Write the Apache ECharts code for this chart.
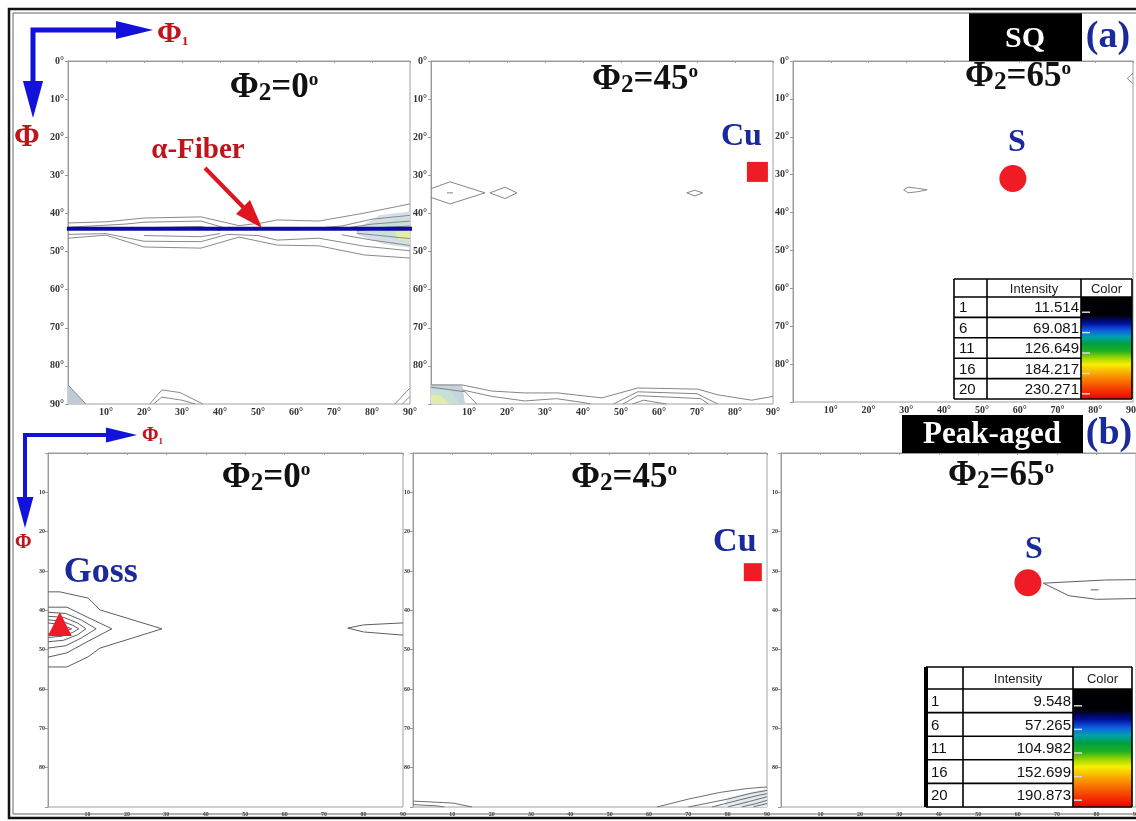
<!DOCTYPE html>
<html>
<head>
<meta charset="utf-8">
<script src="https://cdn.jsdelivr.net/npm/echarts@6/dist/echarts.min.js"></script>
<style>
  html, body { margin: 0; padding: 0; background: #fff; }
  #chart { width: 1136px; height: 821px; }
</style>
</head>
<body>
<div id="chart"></div>
<script>
// ---- ODF section data (Euler angles in degrees: [phi1, Phi]) ----
const ANGLE_TICKS = [0, 10, 20, 30, 40, 50, 60, 70, 80, 90];
const PHI2_SECTIONS = ['0', '45', '65'];
const STATE_NAMES = ['SQ', 'Peak-aged'];
const PANEL_TAGS = ['(a)', '(b)'];

// contour level table
const LEVELS = [1, 6, 11, 16, 20];
const INTENSITY_SQ = ['11.514', '69.081', '126.649', '184.217', '230.271'];
const INTENSITY_PA = ['9.548', '57.265', '104.982', '152.699', '190.873'];

// alpha fibre position (Phi)
const ALPHA_FIBER_PHI = 44;

// ideal texture components
const CU_SQ = [85.9, 29.1];
const S_SQ = [58.2, 31];
const CU_PA = [86.4, 30.3];
const S_PA = [62.6, 33];
const GOSS_PA = [3, 43.5];

// SQ, phi2 = 0
const SQ0_LINES = [
  [[0,42.5],[10,42.2],[20,41.2],[35,40.9],[45,43.2],[51,42.5],[55,41.7],[66,42],[78,39.9],[90,37.5]],
  [[0,43.6],[8,43.2],[15,42.8],[20,42.3],[35,42],[42,44],[50,44.2],[60,44.3],[72,43.3],[80,41.5],[90,40.5]],
  [[18,43.8],[35,43.4],[40,44.5]],
  [[70,44.3],[80,42.8],[90,42]],
  [[0,46.5],[10,45.7],[20,48.8],[35,49.1],[45,46.2],[55,48.3],[66,48.5],[78,50.9],[90,51.7]],
  [[0,45.5],[10,45.3],[20,47.3],[35,47.4],[42,45.5],[50,45.8],[55,47],[66,46.5],[78,48.6],[90,49.8]],
  [[20,45.8],[35,46.1],[40,45.3]],
  [[72,45.6],[80,47],[90,48.4]],
  [[76,44.6],[84,43.6],[90,43.3]],
  [[76,45.2],[84,46],[90,46.6]],
  [[21.5,90],[24.7,86.3],[29.5,87],[35.5,90]],
  [[22.5,90],[24.7,88.2],[30,89],[33.5,90]],
  [[86,90],[90,85.8]],
  [[88,90],[90,88]],
  [[0,85],[4.7,90]]
];
const SQ0_FILLS = [
  [[76,44],[82,40.5],[90,39.5],[90,49],[83,48],[76,45.5]],
  [[82,43.2],[86,41.5],[90,41],[90,47.8],[86,46.8],[82,45.6]],
  [[86,45],[90,43.6],[90,47.2],[87,46.8]],
  [[0,85],[4.7,90],[0,90]]
];

// SQ, phi2 = 45
const SQ45_LINES = [
  [[0,33.5],[5,31.7],[14.2,34.6],[5,37.5],[0,35.8]],
  [[4.2,34.6],[5.8,34.6]],
  [[15.5,34.6],[19.5,33.1],[22.6,34.6],[19.5,36.1],[15.5,34.6]],
  [[67.3,34.6],[69.4,33.9],[71.5,34.6],[69.4,35.4],[67.3,34.6]],
  [[0,85],[8.2,85],[16,86.6],[24.7,87.1],[33.4,87.1],[45,88.4],[54.4,85.8],[70.2,86.1],[75.5,87.6],[84.4,89],[90,88]],
  [[8.2,86.3],[16,88],[24.7,89.2],[33,88.6],[40,89.6],[42,90]],
  [[48,90],[54.4,86.8],[70,87.3],[75.5,90]],
  [[50.5,90],[54.4,87.8],[71,88.6],[73,90]],
  [[53,90],[56,89],[60,89.7],[62,90]],
  [[0,85.6],[9,86.8],[12,90]]
];
const SQ45_FILLS = [
  [[0,84.8],[8.2,85],[9,90],[0,90]],
  [[0,86],[5,86.4],[7.5,90],[0,90]],
  [[0,87.5],[2.5,87.8],[5,90],[0,90]]
];

// SQ, phi2 = 65
const SQ65_LINES = [
  [[29.3,34],[30.5,33.3],[33,33.6],[35.5,34],[33,34.5],[30.5,34.8],[29.3,34]],
  [[90,3.2],[88.5,4.6],[90,6]]
];

// Peak-aged, phi2 = 0
const PA0_LINES = [
  [[0,35.3],[3,35.3],[10.2,36.9],[13.2,39.9],[28.9,44.7],[13.2,49.6],[10.2,51.8],[4.8,54.4],[0,54.4]],
  [[0,39.2],[4.8,39.2],[9.9,41.7],[16.2,44.7],[9.9,48],[4.8,50.8],[0,51.9]],
  [[0,40.5],[4.5,40.8],[8.5,42.5],[12.2,44.7],[8.5,47],[4.5,49],[0,49.6]],
  [[0,41.5],[4,41.8],[7.5,43.2],[9.6,44.7],[7.5,46.2],[4,47.6],[0,48]],
  [[0,42.4],[3.5,42.8],[6.3,43.8],[7.8,44.7],[6.3,45.6],[3.5,46.6],[0,46.9]],
  [[0,43.2],[3,43.6],[6,44.7],[3,45.7],[0,46]],
  [[90,43.2],[80,43.7],[76,44.5],[80,45.5],[90,46.3]]
];

// Peak-aged, phi2 = 45
const PA45_LINES = [
  [[0,88.5],[10.2,89],[15,90]],
  [[0,89.4],[6,89.7],[8,90]],
  [[62,90],[70,88],[78,86.3],[85,85.3],[90,84.9]],
  [[70,90],[80,88],[86,86.5],[90,85.8]],
  [[76,90],[83,88.2],[88,87],[90,86.6]],
  [[80,90],[85.5,88.6],[90,87.4]],
  [[83.5,90],[87,89.2],[90,88.3]],
  [[86.5,90],[90,89.1]]
];
const PA45_FILLS = [
  [[80,87.6],[90,85.3],[90,90],[79,90]]
];

// Peak-aged, phi2 = 65
const PA65_LINES = [
  [[90,32.2],[82,32.3],[66.5,33.1],[73,36.3],[80,37.2],[90,37]],
  [[78.5,34.8],[80.5,34.8]]
];

// ---- layout & styling ----
const SERIF = '"Liberation Serif", "DejaVu Serif", serif';
const SANS = '"Liberation Sans", Arial, sans-serif';
const BLUE_ARROW = '#1212d8';
const RED_TXT = '#c0141c';
const NAVY = '#1b2a9a';
const MARK_RED = '#ef1c26';

const GRIDS = [
  { left: 68, top: 61, width: 342, height: 343 },
  { left: 431, top: 61, width: 342, height: 343 },
  { left: 793, top: 61, width: 340, height: 341 },
  { left: 48, top: 453, width: 355, height: 354 },
  { left: 413, top: 453, width: 354, height: 354 },
  { left: 781, top: 453, width: 355, height: 354 }
];

const FILL_STYLE = {
  sq0: ['#d3e0e8', '#c8e2d8', '#e3eea6', '#bfccd6'],
  sq45: ['#c6d4de', '#c6e0d8', '#e0eca8'],
  pa45: ['#e3e9ef']
};

function xAxisFor(i) {
  const top = i < 3;
  return {
    type: 'value', gridIndex: i, min: 0, max: 90, interval: 10, position: 'bottom',
    axisLine: { show: true, lineStyle: { color: '#9a9a9a', width: 1 } },
    axisTick: { show: true, length: 2, lineStyle: { color: '#9a9a9a' } },
    splitLine: { show: false },
    axisLabel: {
      show: true, margin: top ? 3 : 4,
      fontFamily: SERIF, fontWeight: 'bold', fontSize: top ? 10 : 6, color: '#333',
      formatter: v => (v === 0 ? '' : (top ? v + '°' : String(v)))
    }
  };
}
function yAxisFor(i) {
  const top = i < 3;
  return {
    type: 'value', gridIndex: i, min: 0, max: 90, interval: 10, inverse: true,
    axisLine: { show: true, lineStyle: { color: '#9a9a9a', width: 1 } },
    axisTick: { show: true, length: 3, lineStyle: { color: '#9a9a9a' } },
    splitLine: { show: false },
    axisLabel: {
      show: true, margin: top ? 4 : 3,
      fontFamily: SERIF, fontWeight: 'bold', fontSize: top ? 10 : 6, color: '#333',
      formatter: v => {
        if (i !== 0 && v === 90) return '';
        if (!top && v === 0) return '';
        return top ? v + '°' : String(v);
      }
    }
  };
}

function lineSeries(gi, arr, color, width) {
  return arr.map(pts => ({
    type: 'line', xAxisIndex: gi, yAxisIndex: gi, data: pts,
    symbol: 'none', showSymbol: false, silent: true, animation: false, z: 4,
    lineStyle: { color: color || '#7f7f7f', width: width || 1 }
  }));
}
function fillSeries(gi, polys, colors) {
  return {
    type: 'custom', xAxisIndex: gi, yAxisIndex: gi, silent: true, animation: false, z: 2,
    data: polys.map(p => p[0]),
    renderItem: (params, api) => ({
      type: 'polygon',
      shape: { points: polys[params.dataIndex].map(q => api.coord(q)) },
      style: { fill: colors[params.dataIndex] }
    })
  };
}
function markerSeries(gi, point, symbol, size, text, offset, fontSize) {
  return {
    type: 'scatter', xAxisIndex: gi, yAxisIndex: gi, data: [point], z: 10,
    symbol: symbol, symbolSize: size, silent: true, animation: false,
    itemStyle: { color: MARK_RED, opacity: 1 },
    label: {
      show: true, position: 'inside', offset: offset, formatter: text,
      fontFamily: SERIF, fontWeight: 'bold', fontSize: fontSize, color: NAVY
    }
  };
}

// section title "Φ2=xx°"
function sectionTitle(cx, cy, angle, size) {
  return {
    type: 'text', z: 20,
    style: {
      x: cx, y: cy, align: 'center', verticalAlign: 'middle',
      textAlign: 'center', textVerticalAlign: 'middle',
      text: '{a|Φ}{b|2}{a|=' + angle + '}{c|o}',
      rich: {
        a: { fontFamily: SERIF, fontWeight: 'bold', fontSize: size, fill: '#111', lineHeight: size },
        b: { fontFamily: SERIF, fontWeight: 'bold', fontSize: size * 0.72, fill: '#111', lineHeight: size * 0.55, verticalAlign: 'bottom' },
        c: { fontFamily: SERIF, fontWeight: 'bold', fontSize: size * 0.55, fill: '#111', lineHeight: size * 0.55, verticalAlign: 'top' }
      }
    }
  };
}

function phiLabel(x, y, size, sub) {
  return {
    type: 'text', z: 20,
    style: {
      x: x, y: y, align: 'left', verticalAlign: 'middle', textAlign: 'left', textVerticalAlign: 'middle',
      text: sub ? '{a|Φ}{b|' + sub + '}' : '{a|Φ}',
      rich: {
        a: { fontFamily: SERIF, fontWeight: 'bold', fontSize: size, fill: RED_TXT, lineHeight: size },
        b: { fontFamily: SERIF, fontWeight: 'bold', fontSize: size * 0.45, fill: RED_TXT, lineHeight: size * 0.5, verticalAlign: 'bottom' }
      }
    }
  };
}

// axis-direction arrows (phi1 to the right, Phi downwards)
function axisArrows(ox, oy, hx, vy, w, head) {
  return [
    { type: 'polyline', z: 20, shape: { points: [[ox, vy - head], [ox, oy], [hx - head, oy]] },
      style: { stroke: BLUE_ARROW, lineWidth: w, fill: null, lineJoin: 'miter' } },
    { type: 'polygon', z: 20, shape: { points: [[hx - head - 1, oy - head * 0.25], [hx, oy], [hx - head - 1, oy + head * 0.25]] },
      style: { fill: BLUE_ARROW } },
    { type: 'polygon', z: 20, shape: { points: [[ox - head * 0.28, vy - head - 1], [ox, vy], [ox + head * 0.28, vy - head - 1]] },
      style: { fill: BLUE_ARROW } }
  ];
}

function levelTable(x, y, colW, rowH, headH, values, thickLeft) {
  const els = [];
  const w = colW[0] + colW[1] + colW[2];
  const h = headH + rowH * values.length;
  const x1 = x + colW[0], x2 = x1 + colW[1], x3 = x2 + colW[2];
  els.push({ type: 'rect', z: 30, shape: { x: x, y: y, width: w, height: h }, style: { fill: '#fff', stroke: null } });
  els.push({
    type: 'rect', z: 31, shape: { x: x2, y: y + headH, width: colW[2], height: rowH * values.length },
    style: {
      fill: new echarts.graphic.LinearGradient(0, 0, 0, 1, [
        { offset: 0, color: '#000000' }, { offset: 0.18, color: '#000008' },
        { offset: 0.26, color: '#0010a0' }, { offset: 0.33, color: '#1060e0' },
        { offset: 0.39, color: '#00a0b0' }, { offset: 0.46, color: '#00a040' },
        { offset: 0.53, color: '#20b020' }, { offset: 0.6, color: '#a0d800' },
        { offset: 0.66, color: '#f8f000' }, { offset: 0.75, color: '#f8a800' },
        { offset: 0.86, color: '#f85800' }, { offset: 1, color: '#f00000' }
      ])
    }
  });
  const stroke = { stroke: '#000', lineWidth: 1.6 };
  // horizontal rules
  for (let r = 0; r <= values.length + 1; r++) {
    const yy = r === 0 ? y : y + headH + rowH * (r - 1);
    els.push({ type: 'line', z: 32, shape: { x1: x, y1: yy, x2: r === 0 || r === values.length + 1 ? x3 : x2, y2: yy }, style: stroke });
  }
  els.push({ type: 'line', z: 32, shape: { x1: x2, y1: y + headH, x2: x3, y2: y + headH }, style: stroke });
  // vertical rules
  [x, x1, x2, x3].forEach((xx, k) => {
    els.push({ type: 'line', z: 32, shape: { x1: xx, y1: y, x2: xx, y2: y + h },
      style: { stroke: '#000', lineWidth: (k === 0 && thickLeft) ? 4 : 1.6 } });
  });
  els.push({ type: 'text', z: 33, style: { x: (x1 + x2) / 2, y: y + headH / 2 + 1, text: 'Intensity', align: 'center', verticalAlign: 'middle', textAlign: 'center', textVerticalAlign: 'middle', font: '13px ' + SANS, fill: '#222' } });
  els.push({ type: 'text', z: 33, style: { x: (x2 + x3) / 2, y: y + headH / 2 + 1, text: 'Color', align: 'center', verticalAlign: 'middle', textAlign: 'center', textVerticalAlign: 'middle', font: '13px ' + SANS, fill: '#222' } });
  values.forEach((v, r) => {
    const cy = y + headH + rowH * r + rowH / 2 + 1;
    els.push({ type: 'text', z: 33, style: { x: x + 5, y: cy, text: String(LEVELS[r]), align: 'left', verticalAlign: 'middle', textAlign: 'left', textVerticalAlign: 'middle', font: '15px ' + SANS, fill: '#111' } });
    els.push({ type: 'text', z: 33, style: { x: x2 - 2, y: cy, text: v, align: 'right', verticalAlign: 'middle', textAlign: 'right', textVerticalAlign: 'middle', font: '15px ' + SANS, fill: '#111' } });
    els.push({ type: 'line', z: 33, shape: { x1: x2 + 1, y1: cy + 4, x2: x2 + 9, y2: cy + 4 }, style: { stroke: '#d8d8d8', lineWidth: 1.5 } });
  });
  return els;
}

const series = [].concat(
  fillSeries(0, SQ0_FILLS, FILL_STYLE.sq0),
  lineSeries(0, SQ0_LINES, '#8a8a8a'),
  [{
    type: 'line', xAxisIndex: 0, yAxisIndex: 0, clip: false, silent: true, animation: false, z: 8,
    symbol: 'none', data: [[-0.3, ALPHA_FIBER_PHI], [90.8, ALPHA_FIBER_PHI]],
    lineStyle: { color: '#0d0d9c', width: 4 }
  }],
  fillSeries(1, SQ45_FILLS, FILL_STYLE.sq45),
  lineSeries(1, SQ45_LINES, '#858585'),
  [markerSeries(1, CU_SQ, 'rect', [21, 20], 'Cu', [-16, -35], 32)],
  lineSeries(2, SQ65_LINES, '#8a8a8a'),
  [markerSeries(2, S_SQ, 'circle', 27, 'S', [4, -36], 32)],
  lineSeries(3, PA0_LINES, '#5e5e5e'),
  [markerSeries(3, GOSS_PA, 'triangle', [24, 24], 'Goss', [41, -51], 36)],
  fillSeries(4, PA45_FILLS, FILL_STYLE.pa45),
  lineSeries(4, PA45_LINES, '#6e6e6e'),
  [markerSeries(4, CU_PA, 'rect', [18, 18], 'Cu', [-18, -30], 34)],
  lineSeries(5, PA65_LINES, '#5e5e5e'),
  [markerSeries(5, S_PA, 'circle', 27, 'S', [6, -33], 32)]
);

const graphics = [].concat(
  // figure frame
  [{ type: 'rect', z: 40, shape: { x: 9, y: 9, width: 1145, height: 809 }, style: { fill: null, stroke: '#111', lineWidth: 2.5 } },
   { type: 'rect', z: 40, shape: { x: 13, y: 13, width: 1140, height: 801 }, style: { fill: null, stroke: '#666', lineWidth: 1 } }],
  axisArrows(33, 30, 153, 118, 5, 36),
  [phiLabel(157, 34, 30, '1'), phiLabel(14, 138, 31)],
  axisArrows(25, 435, 137, 528, 4, 30),
  [phiLabel(142, 436, 20, '1'), phiLabel(15, 543, 20)],
  [sectionTitle(274, 88, '0', 35), sectionTitle(645, 80, '45', 35), sectionTitle(1018, 77, '65', 35),
   sectionTitle(266, 478, '0', 35), sectionTitle(624, 478, '45', 35), sectionTitle(1001, 476, '65', 35)],
  // alpha fibre annotation
  [{ type: 'text', z: 20, style: { x: 198, y: 151, text: 'α-Fiber', align: 'center', verticalAlign: 'middle', textAlign: 'center', textVerticalAlign: 'middle', font: 'bold 29px ' + SERIF, fill: RED_TXT } },
   { type: 'line', z: 20, shape: { x1: 205, y1: 168, x2: 246, y2: 210 }, style: { stroke: '#e0141e', lineWidth: 4 } },
   { type: 'polygon', z: 20, shape: { points: [[236, 214], [262, 228], [250, 200]] }, style: { fill: '#e0141e' } }],
  // state labels
  [{ type: 'rect', z: 35, shape: { x: 969, y: 13, width: 113, height: 48 }, style: { fill: '#000' } },
   { type: 'text', z: 36, style: { x: 1025, y: 39, text: STATE_NAMES[0], align: 'center', verticalAlign: 'middle', textAlign: 'center', textVerticalAlign: 'middle', font: 'bold 30px ' + SERIF, fill: '#fff' } },
   { type: 'text', z: 36, style: { x: 1108, y: 37, text: PANEL_TAGS[0], align: 'center', verticalAlign: 'middle', textAlign: 'center', textVerticalAlign: 'middle', font: 'bold 38px ' + SERIF, fill: NAVY } },
   { type: 'rect', z: 35, shape: { x: 902, y: 415, width: 181, height: 38 }, style: { fill: '#000' } },
   { type: 'text', z: 36, style: { x: 992, y: 435, text: STATE_NAMES[1], align: 'center', verticalAlign: 'middle', textAlign: 'center', textVerticalAlign: 'middle', font: 'bold 31px ' + SERIF, fill: '#fff' } },
   { type: 'text', z: 36, style: { x: 1109, y: 434, text: PANEL_TAGS[1], align: 'center', verticalAlign: 'middle', textAlign: 'center', textVerticalAlign: 'middle', font: 'bold 38px ' + SERIF, fill: NAVY } }],
  levelTable(954, 279, [33, 94, 51], 20.4, 18, INTENSITY_SQ, false),
  levelTable(926, 667, [37, 110, 59], 23.6, 22, INTENSITY_PA, true)
);

const chart = echarts.init(document.getElementById('chart'), null, { renderer: 'canvas' });
chart.setOption({
  backgroundColor: '#fff',
  animation: false,
  grid: GRIDS.map(g => Object.assign({ show: true, borderColor: '#a0a0a0', borderWidth: 1, backgroundColor: 'transparent', outerBoundsMode: 'none' }, g)),
  xAxis: GRIDS.map((_, i) => xAxisFor(i)),
  yAxis: GRIDS.map((_, i) => yAxisFor(i)),
  series: series,
  graphic: { elements: graphics }
});
</script>
</body>
</html>
